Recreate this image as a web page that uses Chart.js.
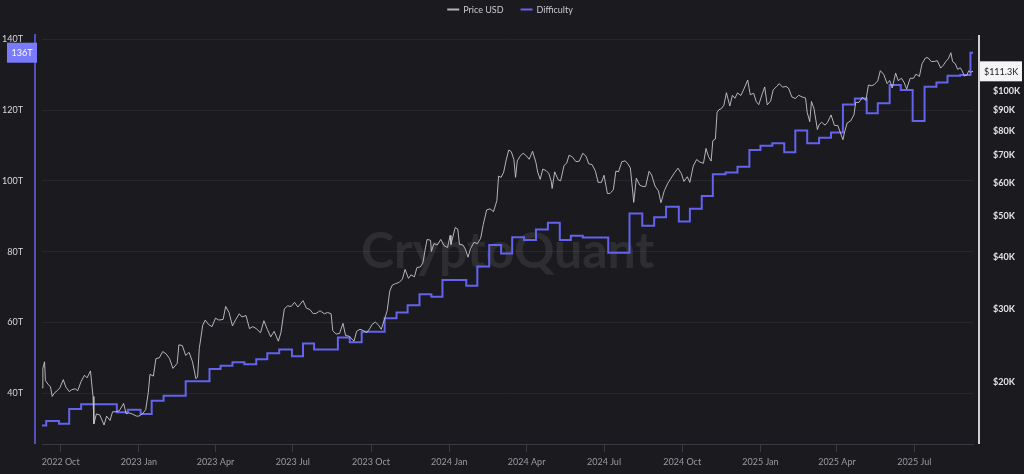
<!DOCTYPE html>
<html>
<head>
<meta charset="utf-8">
<script src="https://cdn.jsdelivr.net/npm/chart.js@4.4.1/dist/chart.umd.min.js"></script>
<style>
  html, body { margin: 0; padding: 0; background: #1a1a1f; }
  #wrap { width: 1024px; height: 474px; }
</style>
</head>
<body>
<div id="wrap"><canvas id="chart" width="1024" height="474"></canvas></div>
<script>
// price (USD, in thousands)
const priceDates = [
  '2022-09-09','2022-09-10','2022-09-12','2022-09-13','2022-09-16','2022-09-19','2022-09-21','2022-09-24','2022-09-27','2022-09-30',
  '2022-10-04','2022-10-07','2022-10-11','2022-10-14','2022-10-18','2022-10-21','2022-10-25','2022-10-29','2022-11-01','2022-11-05',
  '2022-11-08','2022-11-09','2022-11-12','2022-11-16','2022-11-21','2022-11-24','2022-11-28','2022-12-01','2022-12-05','2022-12-09',
  '2022-12-14','2022-12-17','2022-12-20','2022-12-24','2022-12-29','2023-01-01','2023-01-05','2023-01-09','2023-01-12','2023-01-14',
  '2023-01-18','2023-01-21','2023-01-25','2023-01-29','2023-02-02','2023-02-06','2023-02-10','2023-02-15','2023-02-17','2023-02-21',
  '2023-02-25','2023-03-01','2023-03-05','2023-03-09','2023-03-11','2023-03-13','2023-03-17','2023-03-20','2023-03-24','2023-03-28',
  '2023-04-01','2023-04-05','2023-04-10','2023-04-13','2023-04-17','2023-04-21','2023-04-25','2023-04-29','2023-05-02','2023-05-07',
  '2023-05-11','2023-05-15','2023-05-19','2023-05-24','2023-05-28','2023-06-01','2023-06-05','2023-06-09','2023-06-14','2023-06-17',
  '2023-06-21','2023-06-25','2023-06-29','2023-07-03','2023-07-07','2023-07-13','2023-07-17','2023-07-21','2023-07-25','2023-07-29',
  '2023-08-02','2023-08-07','2023-08-11','2023-08-15','2023-08-17','2023-08-21','2023-08-25','2023-08-29','2023-09-01','2023-09-05',
  '2023-09-11','2023-09-14','2023-09-18','2023-09-22','2023-09-26','2023-09-30','2023-10-02','2023-10-06','2023-10-10','2023-10-13',
  '2023-10-17','2023-10-20','2023-10-23','2023-10-26','2023-10-30','2023-11-03','2023-11-07','2023-11-10','2023-11-14','2023-11-17',
  '2023-11-21','2023-11-24','2023-11-28','2023-12-01','2023-12-04','2023-12-06','2023-12-10','2023-12-11','2023-12-14','2023-12-18',
  '2023-12-22','2023-12-26','2023-12-30','2024-01-02','2024-01-03','2024-01-08','2024-01-11','2024-01-13','2024-01-17','2024-01-20',
  '2024-01-23','2024-01-26','2024-01-30','2024-02-03','2024-02-07','2024-02-10','2024-02-14','2024-02-18','2024-02-22','2024-02-26',
  '2024-02-28','2024-03-02','2024-03-05','2024-03-08','2024-03-11','2024-03-14','2024-03-17','2024-03-19','2024-03-21','2024-03-25',
  '2024-03-28','2024-04-01','2024-04-04','2024-04-08','2024-04-12','2024-04-14','2024-04-17','2024-04-20','2024-04-24','2024-04-27',
  '2024-04-30','2024-05-01','2024-05-04','2024-05-08','2024-05-11','2024-05-15','2024-05-18','2024-05-21','2024-05-25','2024-05-29',
  '2024-06-02','2024-06-06','2024-06-10','2024-06-13','2024-06-17','2024-06-21','2024-06-24','2024-06-28','2024-07-01','2024-07-05',
  '2024-07-08','2024-07-12','2024-07-15','2024-07-18','2024-07-22','2024-07-26','2024-07-29','2024-08-01','2024-08-05','2024-08-08',
  '2024-08-12','2024-08-16','2024-08-19','2024-08-23','2024-08-26','2024-08-30','2024-09-03','2024-09-06','2024-09-10','2024-09-14',
  '2024-09-18','2024-09-22','2024-09-26','2024-09-30','2024-10-03','2024-10-07','2024-10-10','2024-10-14','2024-10-18','2024-10-22',
  '2024-10-26','2024-10-29','2024-11-01','2024-11-04','2024-11-06','2024-11-09','2024-11-11','2024-11-13','2024-11-16','2024-11-19',
  '2024-11-22','2024-11-26','2024-11-29','2024-12-02','2024-12-05','2024-12-09','2024-12-13','2024-12-17','2024-12-20','2024-12-24',
  '2024-12-27','2024-12-30','2025-01-03','2025-01-06','2025-01-09','2025-01-13','2025-01-16','2025-01-20','2025-01-23','2025-01-27',
  '2025-01-31','2025-02-03','2025-02-07','2025-02-11','2025-02-15','2025-02-19','2025-02-23','2025-02-25','2025-02-28','2025-03-02',
  '2025-03-05','2025-03-09','2025-03-11','2025-03-14','2025-03-18','2025-03-21','2025-03-25','2025-03-29','2025-04-02','2025-04-06',
  '2025-04-08','2025-04-10','2025-04-13','2025-04-17','2025-04-21','2025-04-23','2025-04-27','2025-05-01','2025-05-05','2025-05-08',
  '2025-05-12','2025-05-15','2025-05-19','2025-05-22','2025-05-26','2025-05-30','2025-06-02','2025-06-05','2025-06-09','2025-06-12',
  '2025-06-16','2025-06-19','2025-06-22','2025-06-26','2025-06-30','2025-07-03','2025-07-07','2025-07-10','2025-07-14','2025-07-17',
  '2025-07-21','2025-07-25','2025-07-28','2025-08-01','2025-08-04','2025-08-07','2025-08-10','2025-08-13','2025-08-15','2025-08-18',
  '2025-08-21','2025-08-24','2025-08-26','2025-08-29','2025-09-01','2025-09-03','2025-09-05','2025-09-08'
];
const priceK = [
  19.4,21.6,22.4,20.2,19.8,19.5,18.5,18.9,19.1,19.4,
  20.3,19.5,19.0,19.2,19.3,19.1,20.1,20.8,20.5,21.3,
  18.5,15.9,16.8,16.7,15.8,16.6,16.2,17.0,17.0,17.1,
  17.8,16.8,16.9,16.8,16.6,16.6,16.8,17.2,18.9,20.9,
  20.7,22.8,22.9,23.7,23.4,22.8,21.6,22.2,24.6,24.5,
  23.2,23.6,22.4,20.4,20.6,24.1,27.4,28.2,27.5,27.2,
  28.5,28.2,28.3,30.4,29.4,27.3,28.3,29.2,28.7,28.9,
  26.9,27.2,26.9,26.3,28.1,26.8,25.7,26.5,25.1,26.3,
  30.0,30.5,30.4,31.1,30.3,31.4,30.1,29.9,29.2,29.3,
  29.7,29.2,29.4,29.2,26.6,26.1,26.2,27.7,25.9,25.8,
  25.1,26.5,26.8,26.6,26.3,27.0,27.5,27.9,27.4,26.8,
  28.4,29.7,33.1,34.2,34.5,34.7,35.4,37.3,35.5,36.2,
  35.8,37.7,37.8,38.7,42.0,44.0,43.8,41.2,43.0,42.7,
  44.0,42.5,42.1,45.0,42.8,47.0,46.6,42.8,42.7,41.7,
  39.9,41.8,43.3,43.0,44.3,47.8,51.8,52.1,51.3,54.5,
  62.4,62.0,63.8,68.3,72.1,71.4,68.4,62.0,67.9,70.0,
  70.8,69.7,68.5,71.6,67.2,63.8,61.3,64.9,64.3,63.4,
  60.6,58.3,63.9,61.2,60.8,66.2,67.0,70.1,69.3,67.6,
  67.8,70.8,69.6,66.8,66.5,64.1,60.3,60.3,62.7,56.7,
  56.7,57.9,64.2,63.9,67.6,67.9,66.8,65.3,54.0,61.7,
  59.4,58.9,59.0,64.1,62.8,59.1,57.5,53.9,57.6,60.0,
  61.8,63.6,65.2,63.3,60.6,62.2,60.3,66.0,68.4,67.4,
  67.0,72.7,69.5,67.8,75.9,76.6,88.7,90.0,90.6,92.3,
  98.9,91.9,97.5,95.9,98.8,97.4,101.4,106.1,97.8,98.6,
  94.2,92.6,98.1,102.1,92.5,94.5,100.5,102.3,104.0,102.0,
  102.4,101.4,96.6,95.8,97.5,96.6,96.1,88.7,84.3,94.2,
  90.6,80.7,82.9,84.0,82.7,84.0,87.5,82.6,82.5,78.3,
  76.3,79.6,83.7,84.6,87.5,93.7,93.8,96.5,94.7,103.2,
  102.8,103.5,105.6,111.7,109.4,104.0,105.8,101.5,110.2,105.7,
  107.1,104.6,100.9,107.1,107.1,109.6,108.2,116.0,119.8,120.0,
  117.4,117.6,118.0,113.3,115.0,117.5,119.3,123.3,117.4,116.2,
  112.5,113.5,111.8,108.4,109.2,111.7,110.7,111.3
];

// network difficulty (T), one entry per step change
const diffDates = [
  '2022-09-09','2022-09-14','2022-09-29','2022-10-11','2022-10-25','2022-12-06','2022-12-19','2023-01-03','2023-01-16','2023-01-30',
  '2023-02-25','2023-03-25','2023-04-07','2023-04-21','2023-05-05','2023-05-19','2023-06-01','2023-06-15','2023-06-30','2023-07-13',
  '2023-07-26','2023-08-23','2023-09-06','2023-09-20','2023-10-17','2023-10-31','2023-11-13','2023-11-27','2023-12-11','2023-12-24',
  '2024-01-21','2024-02-03','2024-02-17','2024-03-02','2024-03-15','2024-03-29','2024-04-12','2024-04-26','2024-05-10','2024-05-23',
  '2024-06-06','2024-07-06','2024-07-31','2024-08-15','2024-08-29','2024-09-12','2024-09-27','2024-10-10','2024-10-24','2024-11-06',
  '2024-11-21','2024-12-05','2024-12-19','2025-01-01','2025-01-15','2025-01-29','2025-02-11','2025-02-25','2025-03-11','2025-03-25',
  '2025-04-08','2025-04-22','2025-05-06','2025-05-19','2025-06-02','2025-06-15','2025-06-29','2025-07-13','2025-07-27','2025-08-09',
  '2025-08-24','2025-09-05','2025-09-08'
];
const diffT = [
  30.9,32.2,31.4,35.6,36.9,34.7,35.4,34.2,37.9,39.3,
  43.4,46.9,47.8,48.8,48.2,49.6,51.3,52.4,50.5,54.1,
  52.4,55.8,54.4,57.4,61.2,62.8,64.9,68.0,67.3,72.0,
  70.4,75.8,81.9,79.5,84.1,83.3,86.3,88.2,83.3,84.5,
  84.0,79.7,90.8,87.3,89.7,92.7,88.5,92.1,95.7,101.9,
  102.4,104.0,108.7,109.9,110.6,108.1,114.2,110.6,112.2,113.7,
  121.6,123.3,119.1,121.9,127.1,125.7,116.9,126.6,127.8,129.7,
  129.9,136.2,136.2
];

// axis ticks
const quarterDates = ['2022-10-01','2023-01-01','2023-04-01','2023-07-01','2023-10-01','2024-01-01','2024-04-01','2024-07-01','2024-10-01','2025-01-01','2025-04-01','2025-07-01'];
const quarterLabels = ['2022 Oct','2023 Jan','2023 Apr','2023 Jul','2023 Oct','2024 Jan','2024 Apr','2024 Jul','2024 Oct','2025 Jan','2025 Apr','2025 Jul'];
const diffTicks = [40, 60, 80, 100, 120, 140];
const priceTicks = [20, 30, 40, 50, 60, 70, 80, 90, 100];

const priceColor = 'rgba(200,200,206,0.88)';
const diffColor = '#6363ee';
const FONT = 'Lato, "Noto Sans", sans-serif';

const chartDecor = {
  id: 'chartDecor',
  beforeDatasetsDraw(chart) {
    const ctx = chart.ctx, a = chart.chartArea;
    ctx.save();
    ctx.font = 'bold 50px ' + FONT;
    ctx.fillStyle = 'rgba(255,255,255,0.085)';
    ctx.textAlign = 'center';
    ctx.textBaseline = 'alphabetic';
    ctx.fillText('CryptoQuant', (a.left + a.right) / 2, 268);
    ctx.restore();
  },
  afterDraw(chart) {
    const ctx = chart.ctx, a = chart.chartArea;
    const yd = chart.scales.yDiff, yp = chart.scales.yPrice;
    ctx.save();
    // axis lines, set off from the plot
    ctx.lineWidth = 1.5;
    ctx.strokeStyle = diffColor;
    ctx.beginPath(); ctx.moveTo(35, a.top - 1); ctx.lineTo(35, a.bottom); ctx.stroke();
    ctx.lineWidth = 2;
    ctx.strokeStyle = '#cfcfd4';
    ctx.beginPath(); ctx.moveTo(979, a.top); ctx.lineTo(979, a.bottom); ctx.stroke();

    // last value badges
    ctx.font = '9px ' + FONT;
    ctx.textAlign = 'center';
    ctx.textBaseline = 'middle';
    const lastDiff = diffT[diffT.length - 1];
    const dy = yd.getPixelForValue(lastDiff);
    ctx.fillStyle = '#7a7afc';
    ctx.fillRect(7, dy - 10, 30, 20);
    ctx.fillStyle = '#ffffff';
    ctx.fillText(Math.round(lastDiff) + 'T', 22, dy + 0.5);

    const lastPrice = priceK[priceK.length - 1];
    const py = yp.getPixelForValue(lastPrice);
    ctx.fillStyle = '#f4f4f6';
    ctx.fillRect(980, py - 10, 42, 20);
    ctx.fillStyle = '#1a1a1f';
    ctx.fillText('$' + lastPrice.toFixed(1) + 'K', 1001, py + 0.5);

    // legend
    const items = chart.data.datasets.map(ds => ({ label: ds.label, color: ds.borderColor }));
    ctx.font = '9px ' + FONT;
    ctx.textAlign = 'left';
    const widths = items.map(it => 16 + ctx.measureText(it.label).width);
    const total = widths.reduce((s, w) => s + w, 0) + 17 * (items.length - 1);
    let x = chart.width / 2 - total / 2 - 2;
    items.forEach((it, i) => {
      ctx.strokeStyle = it.color;
      ctx.lineWidth = 2;
      ctx.beginPath(); ctx.moveTo(x, 9.5); ctx.lineTo(x + 12, 9.5); ctx.stroke();
      ctx.fillStyle = '#c9c9cf';
      ctx.fillText(it.label, x + 16, 10);
      x += widths[i] + 17;
    });
    ctx.restore();
  }
};

new Chart(document.getElementById('chart').getContext('2d'), {
  type: 'line',
  data: {
    datasets: [{
      label: 'Price USD',
      data: priceDates.map((d, i) => ({ x: Date.parse(d), y: priceK[i] })),
      yAxisID: 'yPrice',
      borderColor: priceColor,
      borderWidth: 1,
      pointRadius: 0,
      tension: 0
    }, {
      label: 'Difficulty',
      data: diffDates.map((d, i) => ({ x: Date.parse(d), y: diffT[i] })),
      yAxisID: 'yDiff',
      borderColor: diffColor,
      borderWidth: 2,
      pointRadius: 0,
      stepped: 'before'
    }]
  },
  plugins: [chartDecor],
  options: {
    responsive: false,
    animation: false,
    layout: { padding: { top: 35, left: 0, right: 0, bottom: 0 } },
    plugins: {
      legend: { display: false },
      tooltip: { enabled: false }
    },
    scales: {
      x: {
        type: 'linear',
        min: Date.parse('2022-09-09'),
        max: Date.parse('2025-09-08'),
        afterBuildTicks: axis => { axis.ticks = quarterDates.map(d => ({ value: Date.parse(d) })); },
        afterFit: axis => { axis.height = 30; },
        grid: { drawOnChartArea: false, drawTicks: true, tickLength: 8, color: '#3a3a42' },
        border: { display: true, color: '#3a3a42' },
        ticks: {
          autoSkip: false, maxRotation: 0, padding: 5,
          color: '#9a9aa0', font: { family: FONT, size: 9 },
          callback: (v, i) => quarterLabels[i]
        }
      },
      yDiff: {
        type: 'linear',
        position: 'left',
        min: 25.7,
        max: 141.2,
        afterBuildTicks: axis => { axis.ticks = diffTicks.map(v => ({ value: v })); },
        afterFit: axis => { axis.width = 42; },
        grid: { color: '#26262d', drawTicks: false },
        border: { display: false },
        ticks: {
          autoSkip: false, padding: 19,
          color: '#d8d8dc', font: { family: FONT, size: 9 },
          callback: v => v + 'T'
        }
      },
      yPrice: {
        type: 'logarithmic',
        position: 'right',
        min: 14.23,
        max: 136,
        afterBuildTicks: axis => { axis.ticks = priceTicks.map(v => ({ value: v })); },
        afterFit: axis => { axis.width = 51; },
        grid: { display: false, drawTicks: false },
        border: { display: false },
        ticks: {
          autoSkip: false, padding: 20,
          color: '#e2e2e6', font: { family: FONT, size: 9, weight: 'bold' },
          callback: v => '$' + v + 'K'
        }
      }
    }
  }
});
</script>
</body>
</html>
